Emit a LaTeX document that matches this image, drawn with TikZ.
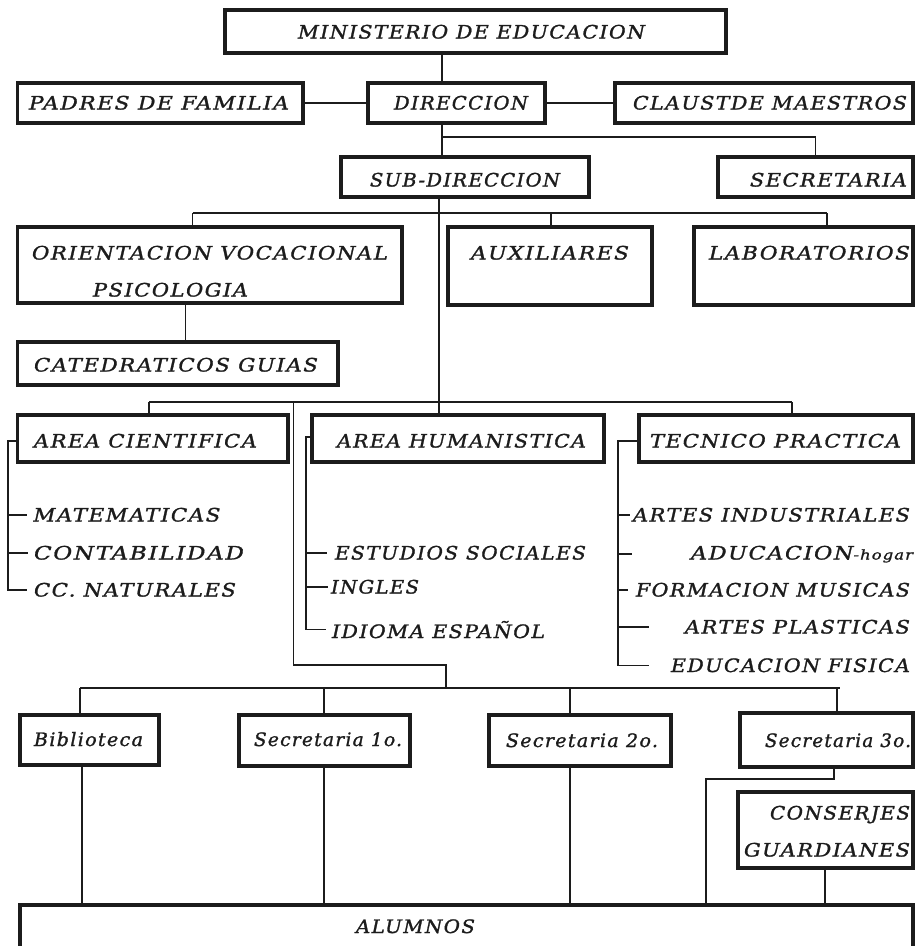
\documentclass[tikz,border=0pt]{standalone}
\usepackage{fontspec}
\usepackage{graphicx}
\newfontfamily\lblfont[LetterSpace=7,FakeBold=1.3]{DejaVu Serif}
\definecolor{ink}{RGB}{28,28,28}
\newcommand{\fw}[2]{\resizebox{#1pt}{\height}{#2}}
\newcommand{\bx}[5]{\node[box, minimum width={#4pt-#2pt}, minimum height={#5pt-#3pt}] (#1) at ({(#2+#4)/2},{(#3+#5)/2}) {};}
\begin{document}
\begin{tikzpicture}[x=1pt,y=-1pt,
 box/.style={draw=ink, line width=3.4pt, rectangle, inner sep=0pt, outer sep=0pt},
 con/.style={draw=ink, line width=1.5pt},
 lbl/.style={inner sep=0pt, outer sep=0pt, anchor=base, text=ink, font=\lblfont\itshape\fontsize{18.5}{18.5}\selectfont}]
\useasboundingbox (0,0) rectangle (915,946);
\clip (0,0) rectangle (915,946);
\fill[white] (0,0) rectangle (915,946);

% boxes
\bx{min}{225}{10}{726}{53}
\bx{pad}{17.5}{83}{303}{123}
\bx{dir}{368}{83}{545}{123}
\bx{cla}{615}{83}{913}{123}
\bx{sub}{341}{157}{589}{197}
\bx{sec}{718}{157}{913}{197}
\bx{ori}{17.5}{227}{402}{303}
\bx{aux}{448}{227}{652}{305}
\bx{lab}{694}{227}{913}{305}
\bx{cat}{17.5}{342}{338}{385}
\bx{aci}{17.5}{415}{288}{462}
\bx{ahu}{312}{415}{604}{462}
\bx{tec}{639}{415}{913}{462}
\bx{bib}{20}{715}{159}{765}
\bx{sa}{239}{715}{410}{766}
\bx{sb}{489}{715}{671}{766}
\bx{sc}{740}{713}{913}{767}
\bx{cons}{738}{792}{913}{868}
\bx{alu}{20}{905}{913}{990}

% labels
\node[lbl] (tmin) at (471.5,38.5) {\fw{347}{MINISTERIO DE EDUCACION}};
\node[lbl] (tpad) at (159,109.5) {\fw{260}{PADRES DE FAMILIA}};
\node[lbl] (tdir) at (461,109.5) {\fw{134}{DIRECCION}};
\node[lbl] (tcla) at (770,109.5) {\fw{274}{CLAUSTDE MAESTROS}};
\node[lbl] (tsub) at (465,186.5) {\fw{190}{SUB-DIRECCION}};
\node[lbl] (tsec) at (828.5,186.5) {\fw{157}{SECRETARIA}};
\node[lbl] (tori) at (210,259.5) {\fw{356}{ORIENTACION VOCACIONAL}};
\node[lbl] (tpsi) at (170.5,296.5) {\fw{155}{PSICOLOGIA}};
\node[lbl] (taux) at (550,259.5) {\fw{158}{AUXILIARES}};
\node[lbl] (tlab) at (809.5,259.5) {\fw{201}{LABORATORIOS}};
\node[lbl] (tcat) at (176,371.5) {\fw{284}{CATEDRATICOS GUIAS}};
\node[lbl] (taci) at (145.5,447.5) {\fw{223}{AREA CIENTIFICA}};
\node[lbl] (tahu) at (461.5,447.5) {\fw{249}{AREA HUMANISTICA}};
\node[lbl] (ttec) at (775.5,447.5) {\fw{251}{TECNICO PRACTICA}};
\node[lbl] (tmat) at (127,521.5) {\fw{187}{MATEMATICAS}};
\node[lbl] (tcon) at (139,559.5) {\fw{210}{CONTABILIDAD}};
\node[lbl] (tnat) at (135,596.5) {\fw{202}{CC. NATURALES}};
\node[lbl] (test) at (460.5,559.5) {\fw{251}{ESTUDIOS SOCIALES}};
\node[lbl] (ting) at (375,593.5) {\fw{88}{INGLES}};
\node[lbl] (tidi) at (438.5,638) {\fw{213}{IDIOMA ESPAÑOL}};
\node[lbl] (tind) at (771.5,521.5) {\fw{277}{ARTES INDUSTRIALES}};
\node[lbl] (tadu) at (802,559.5) {\fw{222}{ADUCACION{\fontsize{13.5}{13.5}\selectfont -hogar}}};
\node[lbl] (tmus) at (773,596.5) {\fw{274}{FORMACION MUSICAS}};
\node[lbl] (tpla) at (797.5,633.5) {\fw{225}{ARTES PLASTICAS}};
\node[lbl] (tedu) at (790.5,672) {\fw{239}{EDUCACION FISICA}};
\node[lbl] (tbib) at (88.5,746) {\fw{109}{Biblioteca}};
\node[lbl] (tsa) at (328,746) {\fw{148}{Secretaria 1o.}};
\node[lbl] (tsb) at (582,747) {\fw{152}{Secretaria 2o.}};
\node[lbl] (tsc) at (838,747) {\fw{146}{Secretaria 3o.}};
\node[lbl] (tcons) at (840,819.5) {\fw{140}{CONSERJES}};
\node[lbl] (tgua) at (827,856.5) {\fw{166}{GUARDIANES}};
\node[lbl] (talu) at (415.5,933) {\fw{119}{ALUMNOS}};

% junction coordinates
\coordinate (jA) at (442,137);
\coordinate (jB) at (439,213);
\coordinate (jBl) at (192.5,213);
\coordinate (jBm) at (551,213);
\coordinate (jBr) at (827,213);
\coordinate (jC) at (185.5,320);
\coordinate (jDl) at (149,402);
\coordinate (jDr) at (792,402);
\coordinate (jE) at (293.5,402);
\coordinate (jF) at (293.5,665);
\coordinate (jG) at (446,665);
\coordinate (jH) at (446,688);
\coordinate (k0) at (80,688);
\coordinate (k1) at (324,688);
\coordinate (k2) at (570,688);
\coordinate (k3) at (837,688);
\coordinate (kR) at (840,688);
\coordinate (m0) at (82,905);
\coordinate (m1) at (324,905);
\coordinate (m2) at (570,905);
\coordinate (m4) at (825,905);
\coordinate (n1) at (834,779);
\coordinate (n2) at (706,779);
\coordinate (a0) at (8,441);
\coordinate (h0) at (306,437);
\coordinate (t0) at (618,441);

% connectors
\draw[con] (min.south -| jA) -- (dir.north -| jA);
\draw[con] (pad.east) -- (dir.west);
\draw[con] (dir.east) -- (cla.west);
\draw[con] (dir.south -| jA) -- (sub.north -| jA);
\draw[con] (jA) -| (sec.north);
\draw[con] (sub.south -| jB) -- (ahu.north -| jB);
\draw[con] (jBl) -- (jBr);
\draw[con] (jBl) -- (ori.north -| jBl);
\draw[con] (jBm) -- (aux.north -| jBm);
\draw[con] (jBr) -- (lab.north -| jBr);
\draw[con] (ori.south -| jC) -- (cat.north -| jC);
\draw[con] (jDl) -- (jDr);
\draw[con] (jDl) -- (aci.north -| jDl);
\draw[con] (jDr) -- (tec.north -| jDr);
\draw[con] (jE) -- (jF) -- (jG) -- (jH);
\draw[con] (k0) -- (kR);
\draw[con] (k0) -- (bib.north -| k0);
\draw[con] (k1) -- (sa.north -| k1);
\draw[con] (k2) -- (sb.north -| k2);
\draw[con] (k3) -- (sc.north -| k3);
\draw[con] (bib.south -| m0) -- (alu.north -| m0);
\draw[con] (sa.south -| m1) -- (alu.north -| m1);
\draw[con] (sb.south -| m2) -- (alu.north -| m2);
\draw[con] (sc.south -| n1) -- (n1) -- (n2) -- (alu.north -| n2);
\draw[con] (cons.south -| m4) -- (alu.north -| m4);

% brackets
\draw[con] (aci.west |- a0) -- (a0) -- (tnat.west -| a0) -- ([xshift=-7pt]tnat.west);
\draw[con] (tmat.west -| a0) -- ([xshift=-6pt]tmat.west);
\draw[con] (tcon.west -| a0) -- ([xshift=-6pt]tcon.west);
\draw[con] (ahu.west |- h0) -- (h0) -- (tidi.west -| h0) -- ([xshift=-6pt]tidi.west);
\draw[con] (test.west -| h0) -- ([xshift=-8pt]test.west);
\draw[con] (ting.west -| h0) -- ([xshift=-3pt]ting.west);
\draw[con] (tec.west |- t0) -- (t0) -- (tedu.west -| t0) -- ([xshift=-22pt]tedu.west);
\draw[con] (tind.west -| t0) -- ([xshift=-3pt]tind.west);
\draw[con] (tadu.west -| t0) -- ([xshift=-59pt]tadu.west);
\draw[con] (tmus.west -| t0) -- ([xshift=-8pt]tmus.west);
\draw[con] (tpla.west -| t0) -- ([xshift=-36pt]tpla.west);
\end{tikzpicture}
\end{document}
